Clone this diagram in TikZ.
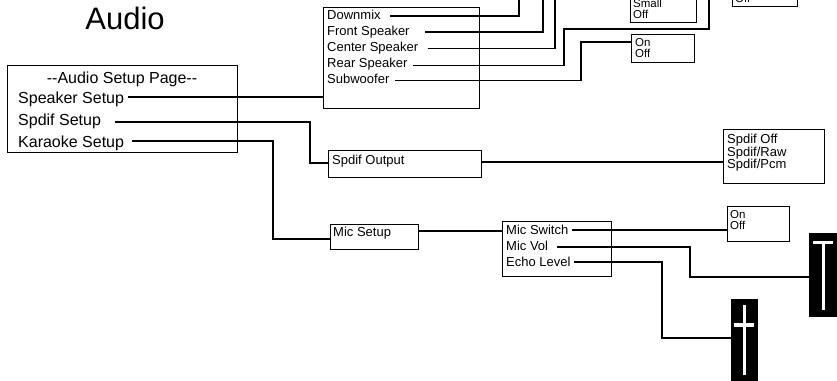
\documentclass[tikz,border=0pt]{standalone}
\usepackage{fontspec}
\setmainfont{Liberation Sans}
\begin{document}
\begin{tikzpicture}[x=1pt,y=-1pt,
  wire/.style={line width=1.2pt},
  box/.style={draw, line width=1.2pt, rectangle, inner sep=0pt, anchor=north west},
  lbl/.style={inner sep=0pt, anchor=base west, font=\fontsize{13}{13}\selectfont},
  big/.style={inner sep=0pt, anchor=base west, font=\fontsize{16}{16}\selectfont},
  tiny/.style={inner sep=0pt, anchor=base west, font=\fontsize{11.5}{11.5}\selectfont},
  slider/.style={fill=black, draw=none, rectangle, inner sep=0pt, anchor=north west},
  knob/.style={fill=white, draw=none}]
\useasboundingbox (0,0) rectangle (837,380);
\clip (0,0) rectangle (837,380);
\fill[white] (0,0) rectangle (837,380);

% title
\node[font=\fontsize{31}{31}\selectfont, inner sep=0pt, anchor=base] (title) at (125,29) {Audio};

% main box
\node[box, minimum width=230pt, minimum height=87pt] (main) at (7,65) {};
\node[big, anchor=base] (mtitle) at (122,83) {-{}-Audio Setup Page-{}-};
\node[big] (tSpk) at (18,103) {Speaker Setup};
\node[big] (tSpd) at (18,125) {Spdif Setup};
\node[big] (tKar) at (18,147) {Karaoke Setup};

% speaker box
\node[box, minimum width=156pt, minimum height=101pt] (spk) at (323,7) {};
\node[lbl] (tDm) at (327,19) {Downmix};
\node[lbl] (tFr) at (327,35.5) {Front Speaker};
\node[lbl] (tCe) at (327,51.5) {Center Speaker};
\node[lbl] (tRe) at (327,67.5) {Rear Speaker};
\node[lbl] (tSw) at (327,83.5) {Subwoofer};

% top option boxes (cut by the top edge)
\node[box, minimum width=66pt, minimum height=62pt] (small) at (630,-40) {};
\node[tiny] (tSmall) at (633,7) {Small};
\node[tiny] (tSmallOff) at (633,18) {Off};
\node[box, minimum width=65pt, minimum height=45.5pt] (topr) at (732,-40) {};
\node[tiny] (tToprOff) at (735,2.5) {Off};

% subwoofer on/off
\node[box, minimum width=63pt, minimum height=28pt] (onA) at (631,34) {};
\node[tiny] (tOnA) at (635,46) {On};
\node[tiny] (tOffA) at (635,57) {Off};

% spdif output
\node[box, minimum width=153pt, minimum height=27pt] (spo) at (328,150) {};
\node[lbl] (tSpo) at (332,164.5) {Spdif Output};
\node[box, minimum width=101pt, minimum height=54pt] (spopt) at (723,129) {};
\node[lbl] (tSo1) at (727,143) {Spdif Off};
\node[lbl] (tSo2) at (727,156) {Spdif/Raw};
\node[lbl] (tSo3) at (727,168.5) {Spdif/Pcm};

% mic
\node[box, minimum width=88pt, minimum height=25pt] (mics) at (330,224) {};
\node[lbl] (tMics) at (333,236.5) {Mic Setup};
\node[box, minimum width=109pt, minimum height=55pt] (micb) at (502,221) {};
\node[lbl] (tMsw) at (506,234) {Mic Switch};
\node[lbl] (tMvol) at (506,250) {Mic Vol};
\node[lbl] (tEcho) at (506,266) {Echo Level};
\node[box, minimum width=62pt, minimum height=35pt] (onB) at (727,206) {};
\node[tiny] (tOnB) at (730,218.5) {On};
\node[tiny] (tOffB) at (730,229) {Off};

% sliders
\node[slider, minimum width=28pt, minimum height=84pt] (sl1) at (809,233) {};
\fill[knob] (813,241) rectangle (833,244);
\fill[knob] (822,241) rectangle (824.5,310);
\node[slider, minimum width=27pt, minimum height=83pt] (sl2) at (731,299) {};
\fill[knob] (734,323) rectangle (754,327);
\fill[knob] (743,305) rectangle (746,375);

% connector start points
\coordinate (sSpk) at (128,97);
\coordinate (sSpd) at (115,122);
\coordinate (sKar) at (132,141);
\coordinate (sDm) at (390,16);
\coordinate (sFr) at (425,32);
\coordinate (sCe) at (428,48.5);
\coordinate (sRe) at (413,65.5);
\coordinate (sSw) at (395,80.5);
\coordinate (sMsw) at (572,230);
\coordinate (sMvol) at (557,247);
\coordinate (sEcho) at (574,262);
\coordinate (eDm) at (519,-5);
\coordinate (eFr) at (543,-5);
\coordinate (eCe) at (555,-5);
\coordinate (eRe) at (709,-5);

% connectors
\draw[wire] (sSpk) -- (spk.west |- sSpk);
\draw[wire] (sSpd) -| (310,163) -- (spo.west |- 310,163);
\draw[wire] (sKar) -| (273,239) -- (mics.west |- 273,239);
\draw[wire] (sDm) -| (eDm);
\draw[wire] (sFr) -| (eFr);
\draw[wire] (sCe) -| (eCe);
\draw[wire] (sRe) -| (564,29) -| (eRe);
\draw[wire] (sSw) -| (581,42) -- (onA.west |- 581,42);
\draw[wire] (spo.east |- 0,162) -- (spopt.west |- 0,162);
\draw[wire] (mics.east |- 0,231) -- (micb.west |- 0,231);
\draw[wire] (sMsw) -- (onB.west |- sMsw);
\draw[wire] (sMvol) -| (690,277) -- (sl1.west |- 690,277);
\draw[wire] (sEcho) -| (662,338) -- (sl2.west |- 662,338);
\end{tikzpicture}
\end{document}
